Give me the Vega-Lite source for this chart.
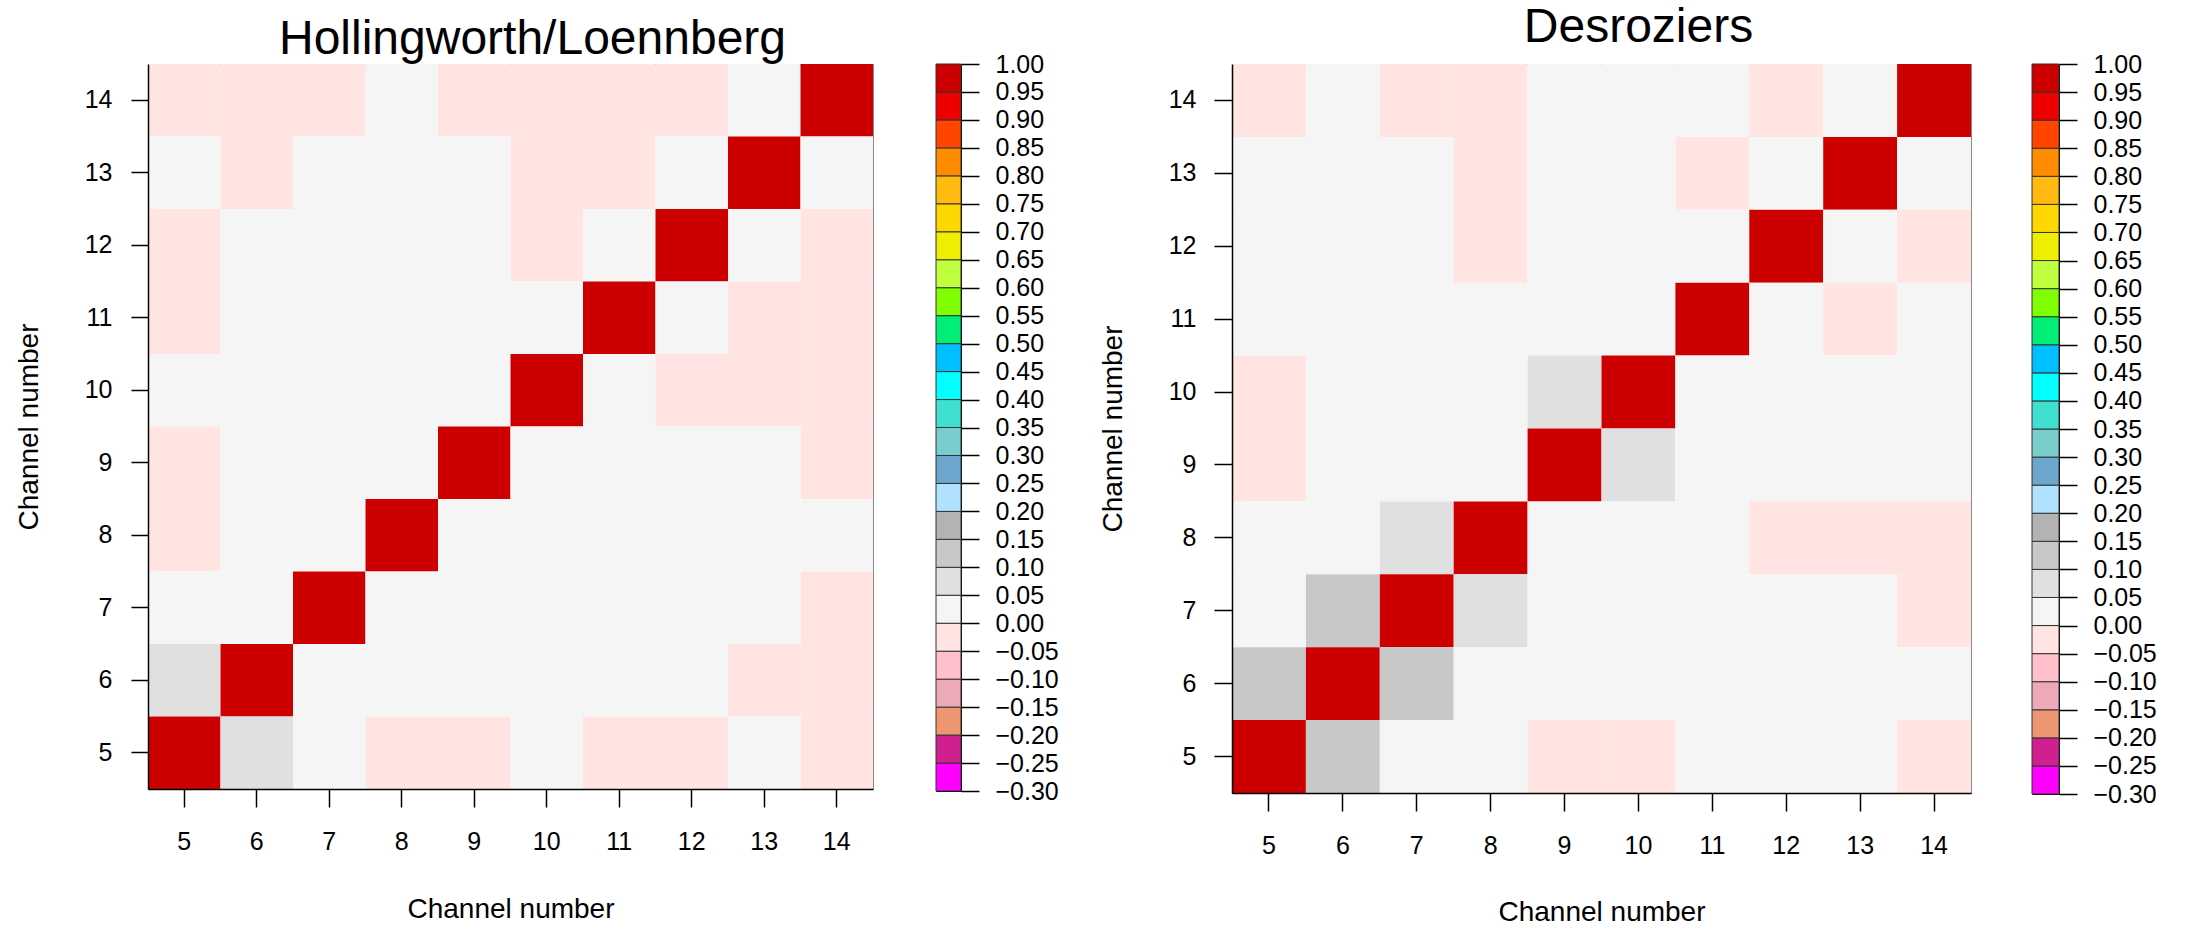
{
  "$schema": "https://vega.github.io/schema/vega-lite/v6.json",
  "padding": {"left": 14, "top": 3, "right": 0, "bottom": 0},
  "background": "white",
  "config": {
    "font": "Liberation Sans",
    "view": {"stroke": "#8a8a8a", "strokeWidth": 1},
    "axis": {"labelFont": "Liberation Sans", "titleFont": "Liberation Sans", "labelColor": "black", "titleColor": "black", "tickColor": "black", "domainColor": "black", "labelFontSize": 25, "titleFontSize": 28, "titleFontWeight": "normal", "grid": false, "tickWidth": 1.5, "domainWidth": 1.5},
    "title": {"font": "Liberation Sans", "fontSize": 48, "fontWeight": "normal", "color": "black", "frame": "group", "anchor": "middle"}
  },
  "datasets": {
    "hl": [
      {"x":5,"y":14,"v":-0.02},{"x":6,"y":14,"v":-0.02},{"x":7,"y":14,"v":-0.02},{"x":8,"y":14,"v":0.02},{"x":9,"y":14,"v":-0.02},{"x":10,"y":14,"v":-0.02},{"x":11,"y":14,"v":-0.02},{"x":12,"y":14,"v":-0.02},{"x":13,"y":14,"v":0.02},{"x":14,"y":14,"v":1},
      {"x":5,"y":13,"v":0.02},{"x":6,"y":13,"v":-0.02},{"x":7,"y":13,"v":0.02},{"x":8,"y":13,"v":0.02},{"x":9,"y":13,"v":0.02},{"x":10,"y":13,"v":-0.02},{"x":11,"y":13,"v":-0.02},{"x":12,"y":13,"v":0.02},{"x":13,"y":13,"v":1},{"x":14,"y":13,"v":0.02},
      {"x":5,"y":12,"v":-0.02},{"x":6,"y":12,"v":0.02},{"x":7,"y":12,"v":0.02},{"x":8,"y":12,"v":0.02},{"x":9,"y":12,"v":0.02},{"x":10,"y":12,"v":-0.02},{"x":11,"y":12,"v":0.02},{"x":12,"y":12,"v":1},{"x":13,"y":12,"v":0.02},{"x":14,"y":12,"v":-0.02},
      {"x":5,"y":11,"v":-0.02},{"x":6,"y":11,"v":0.02},{"x":7,"y":11,"v":0.02},{"x":8,"y":11,"v":0.02},{"x":9,"y":11,"v":0.02},{"x":10,"y":11,"v":0.02},{"x":11,"y":11,"v":1},{"x":12,"y":11,"v":0.02},{"x":13,"y":11,"v":-0.02},{"x":14,"y":11,"v":-0.02},
      {"x":5,"y":10,"v":0.02},{"x":6,"y":10,"v":0.02},{"x":7,"y":10,"v":0.02},{"x":8,"y":10,"v":0.02},{"x":9,"y":10,"v":0.02},{"x":10,"y":10,"v":1},{"x":11,"y":10,"v":0.02},{"x":12,"y":10,"v":-0.02},{"x":13,"y":10,"v":-0.02},{"x":14,"y":10,"v":-0.02},
      {"x":5,"y":9,"v":-0.02},{"x":6,"y":9,"v":0.02},{"x":7,"y":9,"v":0.02},{"x":8,"y":9,"v":0.02},{"x":9,"y":9,"v":1},{"x":10,"y":9,"v":0.02},{"x":11,"y":9,"v":0.02},{"x":12,"y":9,"v":0.02},{"x":13,"y":9,"v":0.02},{"x":14,"y":9,"v":-0.02},
      {"x":5,"y":8,"v":-0.02},{"x":6,"y":8,"v":0.02},{"x":7,"y":8,"v":0.02},{"x":8,"y":8,"v":1},{"x":9,"y":8,"v":0.02},{"x":10,"y":8,"v":0.02},{"x":11,"y":8,"v":0.02},{"x":12,"y":8,"v":0.02},{"x":13,"y":8,"v":0.02},{"x":14,"y":8,"v":0.02},
      {"x":5,"y":7,"v":0.02},{"x":6,"y":7,"v":0.02},{"x":7,"y":7,"v":1},{"x":8,"y":7,"v":0.02},{"x":9,"y":7,"v":0.02},{"x":10,"y":7,"v":0.02},{"x":11,"y":7,"v":0.02},{"x":12,"y":7,"v":0.02},{"x":13,"y":7,"v":0.02},{"x":14,"y":7,"v":-0.02},
      {"x":5,"y":6,"v":0.07},{"x":6,"y":6,"v":1},{"x":7,"y":6,"v":0.02},{"x":8,"y":6,"v":0.02},{"x":9,"y":6,"v":0.02},{"x":10,"y":6,"v":0.02},{"x":11,"y":6,"v":0.02},{"x":12,"y":6,"v":0.02},{"x":13,"y":6,"v":-0.02},{"x":14,"y":6,"v":-0.02},
      {"x":5,"y":5,"v":1},{"x":6,"y":5,"v":0.07},{"x":7,"y":5,"v":0.02},{"x":8,"y":5,"v":-0.02},{"x":9,"y":5,"v":-0.02},{"x":10,"y":5,"v":0.02},{"x":11,"y":5,"v":-0.02},{"x":12,"y":5,"v":-0.02},{"x":13,"y":5,"v":0.02},{"x":14,"y":5,"v":-0.02}
    ],
    "de": [
      {"x":5,"y":14,"v":-0.02},{"x":6,"y":14,"v":0.02},{"x":7,"y":14,"v":-0.02},{"x":8,"y":14,"v":-0.02},{"x":9,"y":14,"v":0.02},{"x":10,"y":14,"v":0.02},{"x":11,"y":14,"v":0.02},{"x":12,"y":14,"v":-0.02},{"x":13,"y":14,"v":0.02},{"x":14,"y":14,"v":1},
      {"x":5,"y":13,"v":0.02},{"x":6,"y":13,"v":0.02},{"x":7,"y":13,"v":0.02},{"x":8,"y":13,"v":-0.02},{"x":9,"y":13,"v":0.02},{"x":10,"y":13,"v":0.02},{"x":11,"y":13,"v":-0.02},{"x":12,"y":13,"v":0.02},{"x":13,"y":13,"v":1},{"x":14,"y":13,"v":0.02},
      {"x":5,"y":12,"v":0.02},{"x":6,"y":12,"v":0.02},{"x":7,"y":12,"v":0.02},{"x":8,"y":12,"v":-0.02},{"x":9,"y":12,"v":0.02},{"x":10,"y":12,"v":0.02},{"x":11,"y":12,"v":0.02},{"x":12,"y":12,"v":1},{"x":13,"y":12,"v":0.02},{"x":14,"y":12,"v":-0.02},
      {"x":5,"y":11,"v":0.02},{"x":6,"y":11,"v":0.02},{"x":7,"y":11,"v":0.02},{"x":8,"y":11,"v":0.02},{"x":9,"y":11,"v":0.02},{"x":10,"y":11,"v":0.02},{"x":11,"y":11,"v":1},{"x":12,"y":11,"v":0.02},{"x":13,"y":11,"v":-0.02},{"x":14,"y":11,"v":0.02},
      {"x":5,"y":10,"v":-0.02},{"x":6,"y":10,"v":0.02},{"x":7,"y":10,"v":0.02},{"x":8,"y":10,"v":0.02},{"x":9,"y":10,"v":0.07},{"x":10,"y":10,"v":1},{"x":11,"y":10,"v":0.02},{"x":12,"y":10,"v":0.02},{"x":13,"y":10,"v":0.02},{"x":14,"y":10,"v":0.02},
      {"x":5,"y":9,"v":-0.02},{"x":6,"y":9,"v":0.02},{"x":7,"y":9,"v":0.02},{"x":8,"y":9,"v":0.02},{"x":9,"y":9,"v":1},{"x":10,"y":9,"v":0.07},{"x":11,"y":9,"v":0.02},{"x":12,"y":9,"v":0.02},{"x":13,"y":9,"v":0.02},{"x":14,"y":9,"v":0.02},
      {"x":5,"y":8,"v":0.02},{"x":6,"y":8,"v":0.02},{"x":7,"y":8,"v":0.07},{"x":8,"y":8,"v":1},{"x":9,"y":8,"v":0.02},{"x":10,"y":8,"v":0.02},{"x":11,"y":8,"v":0.02},{"x":12,"y":8,"v":-0.02},{"x":13,"y":8,"v":-0.02},{"x":14,"y":8,"v":-0.02},
      {"x":5,"y":7,"v":0.02},{"x":6,"y":7,"v":0.12},{"x":7,"y":7,"v":1},{"x":8,"y":7,"v":0.07},{"x":9,"y":7,"v":0.02},{"x":10,"y":7,"v":0.02},{"x":11,"y":7,"v":0.02},{"x":12,"y":7,"v":0.02},{"x":13,"y":7,"v":0.02},{"x":14,"y":7,"v":-0.02},
      {"x":5,"y":6,"v":0.12},{"x":6,"y":6,"v":1},{"x":7,"y":6,"v":0.12},{"x":8,"y":6,"v":0.02},{"x":9,"y":6,"v":0.02},{"x":10,"y":6,"v":0.02},{"x":11,"y":6,"v":0.02},{"x":12,"y":6,"v":0.02},{"x":13,"y":6,"v":0.02},{"x":14,"y":6,"v":0.02},
      {"x":5,"y":5,"v":1},{"x":6,"y":5,"v":0.12},{"x":7,"y":5,"v":0.02},{"x":8,"y":5,"v":0.02},{"x":9,"y":5,"v":-0.02},{"x":10,"y":5,"v":-0.02},{"x":11,"y":5,"v":0.02},{"x":12,"y":5,"v":0.02},{"x":13,"y":5,"v":0.02},{"x":14,"y":5,"v":-0.02}
    ],
    "bins": [
      {"lo":-0.3,"hi":-0.25},{"lo":-0.25,"hi":-0.2},{"lo":-0.2,"hi":-0.15},{"lo":-0.15,"hi":-0.1},{"lo":-0.1,"hi":-0.05},{"lo":-0.05,"hi":0},
      {"lo":0,"hi":0.05},{"lo":0.05,"hi":0.1},{"lo":0.1,"hi":0.15},{"lo":0.15,"hi":0.2},{"lo":0.2,"hi":0.25},{"lo":0.25,"hi":0.3},
      {"lo":0.3,"hi":0.35},{"lo":0.35,"hi":0.4},{"lo":0.4,"hi":0.45},{"lo":0.45,"hi":0.5},{"lo":0.5,"hi":0.55},{"lo":0.55,"hi":0.6},
      {"lo":0.6,"hi":0.65},{"lo":0.65,"hi":0.7},{"lo":0.7,"hi":0.75},{"lo":0.75,"hi":0.8},{"lo":0.8,"hi":0.85},{"lo":0.85,"hi":0.9},
      {"lo":0.9,"hi":0.95},{"lo":0.95,"hi":1}
    ]
  },
  "spacing": 39,
  "hconcat": [
    {
      "spacing": 61,
      "hconcat": [
        {
          "data": {"name": "hl"},
          "width": 725, "height": 725,
          "title": {"text": "Hollingworth/Loennberg", "dx": 22, "offset": 0},
          "mark": {"type": "rect"},
          "encoding": {
            "x": {"field": "x", "type": "ordinal", "scale": {"paddingInner": 0, "paddingOuter": 0}, "axis": {"title": "Channel number", "labelAngle": 0, "tickSize": 18, "labelPadding": 22, "titlePadding": 41}},
            "y": {"field": "y", "type": "ordinal", "sort": "descending", "scale": {"paddingInner": 0, "paddingOuter": 0}, "axis": {"title": "Channel number", "tickSize": 17, "labelPadding": 19, "titlePadding": 41}},
            "color": {"field": "v", "type": "quantitative", "legend": null,
              "scale": {"type": "threshold", "domain": [-0.25,-0.2,-0.15,-0.1,-0.05,0,0.05,0.1,0.15,0.2,0.25,0.3,0.35,0.4,0.45,0.5,0.55,0.6,0.65,0.7,0.75,0.8,0.85,0.9,0.95],
                "range": ["#FF00FF","#D02090","#EE9572","#EEA9B8","#FFC0CB","#FFE4E1","#F5F5F5","#E0E0E0","#C8C8C8","#B3B3B3","#B0E2FF","#6CA6CD","#79CDCD","#40E0D0","#00FFFF","#00BFFF","#00EE76","#7FFF00","#C0FF3E","#EEEE00","#FFD700","#FFB90F","#FF8C00","#FF4500","#EE0000","#CD0000"]}}
          }
        },
        {
          "data": {"name": "bins"},
          "width": 25, "height": 727,
          "view": {"stroke": "black"},
          "mark": {"type": "rect", "stroke": "#333333", "strokeWidth": 1},
          "encoding": {
            "y": {"field": "lo", "type": "quantitative", "scale": {"domain": [-0.3, 1.0], "nice": false, "zero": false},
              "axis": {"orient": "right", "title": null, "format": ".2f", "values": [-0.3,-0.25,-0.2,-0.15,-0.1,-0.05,0,0.05,0.1,0.15,0.2,0.25,0.3,0.35,0.4,0.45,0.5,0.55,0.6,0.65,0.7,0.75,0.8,0.85,0.9,0.95,1], "tickSize": 18, "labelPadding": 16, "domain": false, "labelOverlap": false, "labelBound": false, "labelFlush": false}},
            "y2": {"field": "hi"},
            "color": {"field": "lo", "type": "quantitative", "legend": null,
              "scale": {"type": "threshold", "domain": [-0.25,-0.2,-0.15,-0.1,-0.05,0,0.05,0.1,0.15,0.2,0.25,0.3,0.35,0.4,0.45,0.5,0.55,0.6,0.65,0.7,0.75,0.8,0.85,0.9,0.95],
                "range": ["#FF00FF","#D02090","#EE9572","#EEA9B8","#FFC0CB","#FFE4E1","#F5F5F5","#E0E0E0","#C8C8C8","#B3B3B3","#B0E2FF","#6CA6CD","#79CDCD","#40E0D0","#00FFFF","#00BFFF","#00EE76","#7FFF00","#C0FF3E","#EEEE00","#FFD700","#FFB90F","#FF8C00","#FF4500","#EE0000","#CD0000"]}}
          }
        }
      ]
    },
    {
      "spacing": 59,
      "hconcat": [
        {
          "data": {"name": "de"},
          "width": 739, "height": 729,
          "title": {"text": "Desroziers", "dx": 37, "offset": 12},
          "mark": {"type": "rect"},
          "encoding": {
            "x": {"field": "x", "type": "ordinal", "scale": {"paddingInner": 0, "paddingOuter": 0}, "axis": {"title": "Channel number", "labelAngle": 0, "tickSize": 18, "labelPadding": 22, "titlePadding": 40}},
            "y": {"field": "y", "type": "ordinal", "sort": "descending", "scale": {"paddingInner": 0, "paddingOuter": 0}, "axis": {"title": "Channel number", "tickSize": 18, "labelPadding": 18, "titlePadding": 41}},
            "color": {"field": "v", "type": "quantitative", "legend": null,
              "scale": {"type": "threshold", "domain": [-0.25,-0.2,-0.15,-0.1,-0.05,0,0.05,0.1,0.15,0.2,0.25,0.3,0.35,0.4,0.45,0.5,0.55,0.6,0.65,0.7,0.75,0.8,0.85,0.9,0.95],
                "range": ["#FF00FF","#D02090","#EE9572","#EEA9B8","#FFC0CB","#FFE4E1","#F5F5F5","#E0E0E0","#C8C8C8","#B3B3B3","#B0E2FF","#6CA6CD","#79CDCD","#40E0D0","#00FFFF","#00BFFF","#00EE76","#7FFF00","#C0FF3E","#EEEE00","#FFD700","#FFB90F","#FF8C00","#FF4500","#EE0000","#CD0000"]}}
          }
        },
        {
          "data": {"name": "bins"},
          "width": 27, "height": 730,
          "view": {"stroke": "black"},
          "mark": {"type": "rect", "stroke": "#333333", "strokeWidth": 1},
          "encoding": {
            "y": {"field": "lo", "type": "quantitative", "scale": {"domain": [-0.3, 1.0], "nice": false, "zero": false},
              "axis": {"orient": "right", "title": null, "format": ".2f", "values": [-0.3,-0.25,-0.2,-0.15,-0.1,-0.05,0,0.05,0.1,0.15,0.2,0.25,0.3,0.35,0.4,0.45,0.5,0.55,0.6,0.65,0.7,0.75,0.8,0.85,0.9,0.95,1], "tickSize": 18, "labelPadding": 16, "domain": false, "labelOverlap": false, "labelBound": false, "labelFlush": false}},
            "y2": {"field": "hi"},
            "color": {"field": "lo", "type": "quantitative", "legend": null,
              "scale": {"type": "threshold", "domain": [-0.25,-0.2,-0.15,-0.1,-0.05,0,0.05,0.1,0.15,0.2,0.25,0.3,0.35,0.4,0.45,0.5,0.55,0.6,0.65,0.7,0.75,0.8,0.85,0.9,0.95],
                "range": ["#FF00FF","#D02090","#EE9572","#EEA9B8","#FFC0CB","#FFE4E1","#F5F5F5","#E0E0E0","#C8C8C8","#B3B3B3","#B0E2FF","#6CA6CD","#79CDCD","#40E0D0","#00FFFF","#00BFFF","#00EE76","#7FFF00","#C0FF3E","#EEEE00","#FFD700","#FFB90F","#FF8C00","#FF4500","#EE0000","#CD0000"]}}
          }
        }
      ]
    }
  ]
}
